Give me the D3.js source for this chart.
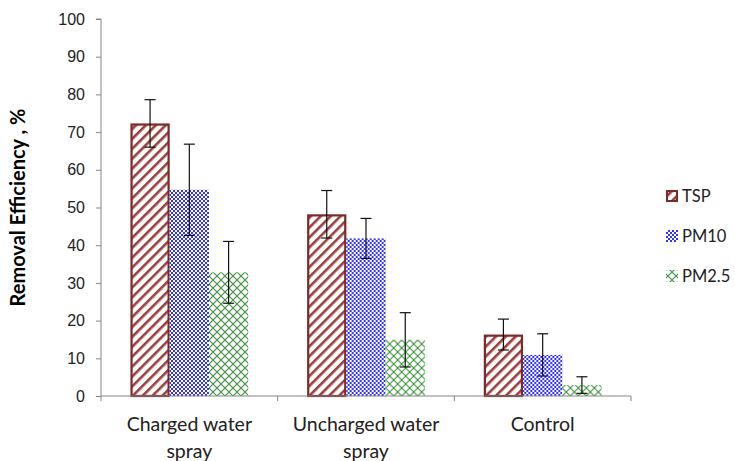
<!DOCTYPE html>
<html>
<head>
<meta charset="utf-8">
<script src="https://cdn.jsdelivr.net/npm/d3@7"></script>
<style>
  html, body { margin: 0; padding: 0; background: #fff; }
  svg { display: block; font-family: Lato, "Open Sans", sans-serif; }
</style>
</head>
<body>
<svg id="chart" width="735" height="461"></svg>
<script>
const categories = [["Charged water", "spray"], ["Uncharged water", "spray"], ["Control"]];
const seriesNames = ["TSP", "PM10", "PM2.5"];
const tspValues = [72.3, 48.2, 16.3];
const tspErrors = [6.3, 6.3, 4.1];
const pm10Values = [54.7, 41.8, 10.9];
const pm10Errors = [12.1, 5.3, 5.6];
const pm25Values = [32.8, 14.9, 2.9];
const pm25Errors = [8.2, 7.2, 2.2];
const yTicks = [0, 10, 20, 30, 40, 50, 60, 70, 80, 90, 100];
const yTitle = "Removal Efficiency , %";

const seriesValues = [tspValues, pm10Values, pm25Values];
const seriesErrors = [tspErrors, pm10Errors, pm25Errors];

const svg = d3.select("#chart");
const defs = svg.append("defs");

// TSP: wide upward diagonal stripes
const pTsp = defs.append("pattern").attr("id", "pat0").attr("patternUnits", "userSpaceOnUse")
  .attr("width", 7).attr("height", 7).attr("patternTransform", "rotate(45)");
pTsp.append("rect").attr("width", 7).attr("height", 7).attr("fill", "#fff");
pTsp.append("rect").attr("x", 0).attr("width", 2.6).attr("height", 7).attr("fill", "#9b3e3c");

// PM10: small checkerboard blue
const pPm10 = defs.append("pattern").attr("id", "pat1").attr("patternUnits", "userSpaceOnUse")
  .attr("width", 4).attr("height", 4);
pPm10.append("rect").attr("width", 4).attr("height", 4).attr("fill", "#3333ff");
pPm10.append("rect").attr("x", 0).attr("y", 0).attr("width", 2).attr("height", 2).attr("fill", "#ffffff");
pPm10.append("rect").attr("x", 2).attr("y", 2).attr("width", 2).attr("height", 2).attr("fill", "#ffffff");

// PM2.5: diagonal lattice green
const pPm25 = defs.append("pattern").attr("id", "pat2").attr("patternUnits", "userSpaceOnUse")
  .attr("width", 8).attr("height", 8);
pPm25.append("rect").attr("width", 8).attr("height", 8).attr("fill", "#fff");
pPm25.append("path").attr("d", "M0,0 L8,8 M0,8 L8,0").attr("stroke", "#3d8f3d")
  .attr("stroke-width", 1.1).attr("fill", "none");

const fills = ["url(#pat0)", "url(#pat1)", "url(#pat2)"];
const strokes = ["#7a2a29", "none", "none"];

const plotLeft = 101, plotRight = 631, plotTop = 19, plotBottom = 396;

const y = d3.scaleLinear().domain([0, 100]).range([plotBottom, plotTop]);
const x0 = d3.scaleBand().domain(d3.range(categories.length)).range([plotLeft, plotRight]).padding(0);
const bw = x0.bandwidth() / 4.5;
const x1 = d3.scaleBand().domain(d3.range(seriesNames.length)).range([0.75 * bw, 3.75 * bw]).padding(0);

// Y axis
const yAxis = d3.axisLeft(y).tickValues(yTicks).tickSize(5).tickPadding(11);
const gy = svg.append("g").attr("transform", `translate(${plotLeft},0)`).call(yAxis);
gy.select(".domain").attr("stroke", "#868686").attr("d", `M-5,${plotTop}H0V${plotBottom}`);
gy.selectAll(".tick line").attr("stroke", "#868686");
gy.selectAll(".tick text").attr("fill", "#222").style("font-size", "16px");

// Bars
const groups = svg.append("g").selectAll("g").data(d3.range(categories.length)).join("g")
  .attr("transform", i => `translate(${x0(i)},0)`);
seriesNames.forEach((s, si) => {
  const inset = si === 0 ? 1.1 : 0;
  groups.append("rect")
    .attr("x", i => x1(si) + inset)
    .attr("y", i => y(seriesValues[si][i]) + inset)
    .attr("width", x1.bandwidth() - 2 * inset)
    .attr("height", i => plotBottom - y(seriesValues[si][i]) - inset)
    .attr("fill", fills[si])
    .attr("stroke", strokes[si])
    .attr("stroke-width", 2.2);
});

// X axis
const xAxisG = svg.append("g").attr("transform", `translate(0,${plotBottom})`);
xAxisG.append("line").attr("x1", plotLeft).attr("x2", plotRight).attr("stroke", "#868686");
const boundaries = d3.range(categories.length + 1).map(i => i < categories.length ? x0(i) : x0(i - 1) + x0.bandwidth());
xAxisG.selectAll("line.tk").data(boundaries).join("line").attr("class", "tk")
  .attr("x1", d => d).attr("x2", d => d).attr("y1", 0).attr("y2", 5).attr("stroke", "#868686");

// Error bars
seriesNames.forEach((s, si) => {
  const g = svg.append("g");
  d3.range(categories.length).forEach(i => {
    const cx = x0(i) + x1(si) + x1.bandwidth() / 2;
    const hi = y(seriesValues[si][i] + seriesErrors[si][i]);
    const lo = y(seriesValues[si][i] - seriesErrors[si][i]);
    g.append("line").attr("x1", cx).attr("x2", cx).attr("y1", hi).attr("y2", lo).attr("stroke", "#111").attr("stroke-width", 1.2);
    [hi, lo].forEach(yy => g.append("line").attr("x1", cx - 5.5).attr("x2", cx + 5.5).attr("y1", yy).attr("y2", yy).attr("stroke", "#111").attr("stroke-width", 1.2));
  });
});

// Category labels
const catG = svg.append("g");
categories.forEach((lines, i) => {
  const cx = x0(i) + x0.bandwidth() / 2;
  const t = catG.append("text").attr("text-anchor", "middle").attr("fill", "#222")
    .style("font-size", "19.5px")
    .attr("x", cx).attr("y", 431);
  lines.forEach((ln, k) => t.append("tspan").attr("x", cx).attr("dy", k === 0 ? 0 : 27).text(ln));
});

// Y title
svg.append("text").attr("transform", `translate(25,${(plotTop + plotBottom) / 2}) rotate(-90)`)
  .attr("text-anchor", "middle").style("font-size", "20px").style("font-weight", "bold").attr("fill", "#000")
  .text(yTitle);

// Legend
const legend = svg.append("g");
seriesNames.forEach((s, si) => {
  const ly = 196 + si * 40;
  const inset = si === 0 ? 1 : 0;
  legend.append("rect").attr("x", 666 + inset).attr("y", ly - 6 + inset)
    .attr("width", 12 - 2 * inset).attr("height", 12 - 2 * inset)
    .attr("fill", fills[si]).attr("stroke", strokes[si]).attr("stroke-width", 2);
  legend.append("text").attr("x", 682).attr("y", ly + 6).style("font-size", "16.5px").attr("fill", "#222").text(s);
});
</script>
</body>
</html>
